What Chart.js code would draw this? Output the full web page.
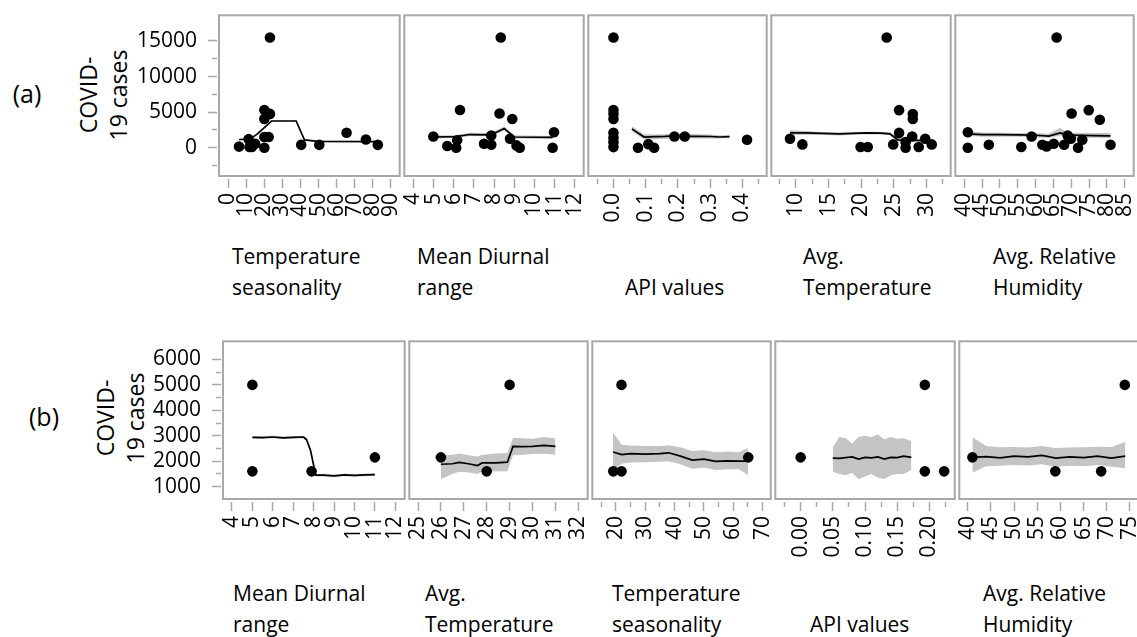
<!DOCTYPE html>
<html><head><meta charset="utf-8">
<script src="https://cdn.jsdelivr.net/npm/chart.js@4.4.0/dist/chart.umd.min.js"></script>
<style>
body{margin:0;background:#fff;width:1137px;height:637px;overflow:hidden;position:relative;font-family:'Open Sans',sans-serif;color:#000}
.cv{position:absolute}
.t{position:absolute;font-size:21px;line-height:31px;white-space:nowrap}
.yt{position:absolute;font-size:23px;line-height:30px;text-align:center;white-space:nowrap;transform:translate(-50%,-50%) rotate(-90deg)}
.lab{position:absolute;font-size:25px;transform:translate(-50%,-50%)}
</style></head><body>
<div class="lab" style="left:27px;top:93px">(a)</div>
<div class="lab" style="left:44px;top:416px">(b)</div>
<div class="yt" style="left:103px;top:95px">COVID-<br>19 cases</div>
<div class="yt" style="left:120px;top:418px">COVID-<br>19 cases</div>
<div class="t" style="left:232px;top:241px">Temperature<br>seasonality</div>
<div class="t" style="left:417px;top:241px">Mean Diurnal<br>range</div>
<div class="t" style="left:625px;top:241px">&nbsp;<br>API values</div>
<div class="t" style="left:803px;top:241px">Avg.<br>Temperature</div>
<div class="t" style="left:993px;top:241px">Avg. Relative<br>Humidity</div>
<div class="t" style="left:233px;top:578px">Mean Diurnal<br>range</div>
<div class="t" style="left:425px;top:578px">Avg.<br>Temperature</div>
<div class="t" style="left:612px;top:578px">Temperature<br>seasonality</div>
<div class="t" style="left:810px;top:578px">&nbsp;<br>API values</div>
<div class="t" style="left:983px;top:578px">Avg. Relative<br>Humidity</div>
<script>
// ---------- y axis (COVID-19 cases) ----------
const caseTicksA = [0, 5000, 10000, 15000];
const caseMinorA = [-2500, 2500, 7500, 12500];
const caseRangeA = [-3986, 18611];
const caseTicksB = [1000, 2000, 3000, 4000, 5000, 6000];
const caseMinorB = [1500, 2500, 3500, 4500, 5500];
const caseRangeB = [512, 6713];

// ---------- (a) row ----------
// a1 Temperature seasonality
const a1Ticks = [0, 10, 20, 30, 40, 50, 60, 70, 80, 90];
const a1Labels = ['0','10','20','30','40','50','60','70','80','90'];
const a1Minor = [];
const a1Range = [-5.1, 94.9];
const a1PointX = [6.0, 11.3, 11.8, 13.1, 14.9, 12.5, 20.0, 20.0, 22.4, 20.0, 20.0, 23.1, 23.1, 40.4, 50.4, 65.5, 76.2, 82.8];
const a1PointY = [150, 1200, 100, 100, 550, 400, 0, 1500, 1500, 4050, 5300, 4750, 15500, 400, 400, 2100, 1150, 400];
const a1LineX = [6, 12, 16, 24, 37.6, 42.2, 49.5, 82];
const a1LineY = [1150, 1200, 1900, 3750, 3750, 1100, 900, 850];
const a1BandHi = [1230, 1280, 1980, 3830, 3830, 1180, 980, 930];
const a1BandLo = [1070, 1120, 1820, 3670, 3670, 1020, 820, 770];

// a2 Mean Diurnal range
const a2Ticks = [4, 5, 6, 7, 8, 9, 10, 11, 12];
const a2Labels = ['4','5','6','7','8','9','10','11','12'];
const a2Minor = [];
const a2Range = [3.55, 12.44];
const a2PointX = [4.99, 5.68, 6.12, 6.17, 6.31, 7.5, 7.86, 7.86, 8.27, 8.33, 8.9, 8.79, 9.11, 9.27, 10.97, 10.9];
const a2PointY = [1570, 230, 0, 1050, 5300, 550, 410, 1700, 4800, 15500, 4030, 1250, 320, 0, 2170, 0];
const a2LineX = [5.0, 6.1, 6.8, 7.8, 8.1, 8.5, 9.0, 10.9];
const a2LineY = [1500, 1550, 1850, 1800, 2150, 2700, 1500, 1450];
const a2BandHi = [1700, 1800, 2100, 2050, 2400, 2950, 1750, 1650];
const a2BandLo = [1300, 1350, 1650, 1600, 1950, 2450, 1300, 1250];

// a3 API values
const a3Ticks = [0, 0.1, 0.2, 0.3, 0.4];
const a3Labels = ['0.0','0.1','0.2','0.3','0.4'];
const a3Minor = [-0.05, 0.05, 0.15, 0.25, 0.35, 0.45];
const a3Range = [-0.078, 0.475];
const a3PointX = [0, 0, 0, 0, 0, 0, 0, 0, 0.076, 0.108, 0.126, 0.189, 0.221, 0.414];
const a3PointY = [15500, 5300, 4720, 4030, 2100, 1400, 780, 80, 0, 500, 0, 1570, 1570, 1110];
const a3LineX = [0.057, 0.095, 0.13, 0.16, 0.19, 0.22, 0.26, 0.30, 0.33, 0.36];
const a3LineY = [2640, 1500, 1550, 1580, 1650, 1600, 1600, 1570, 1500, 1560];
const a3BandHi = [3000, 1900, 1850, 1900, 2000, 1950, 1900, 1850, 1750, 1750];
const a3BandLo = [2300, 1150, 1200, 1250, 1350, 1300, 1300, 1300, 1280, 1400];

// a4 Avg. Temperature
const a4Ticks = [10, 15, 20, 25, 30];
const a4Labels = ['10','15','20','25','30'];
const a4Minor = [7.5, 12.5, 17.5, 22.5, 27.5, 32.5];
const a4Range = [6.24, 33.7];
const a4PointX = [9.1, 11.0, 19.9, 21.0, 23.9, 24.9, 25.8, 25.8, 26.8, 26.8, 27.8, 27.9, 27.9, 28.8, 29.8, 30.8];
const a4PointY = [1250, 460, 90, 90, 15500, 460, 2080, 5280, 0, 780, 1570, 4720, 4030, 90, 1250, 460];
const a4LineX = [9.1, 11.7, 14, 16.7, 20.7, 23, 24.4, 25.6, 27, 29.6, 30.6];
const a4LineY = [2080, 2080, 2000, 1940, 2080, 2050, 1940, 1110, 1050, 1010, 1100];
const a4BandHi = [2450, 2350, 2200, 2150, 2250, 2250, 2150, 1400, 1350, 1250, 1300];
const a4BandLo = [1800, 1800, 1800, 1720, 1900, 1850, 1750, 850, 800, 800, 900];

// a5 Avg. Relative Humidity
const a5Ticks = [40, 45, 50, 55, 60, 65, 70, 75, 80, 85];
const a5Labels = ['40','45','50','55','60','65','70','75','80','85'];
const a5Minor = [];
const a5Range = [37.5, 87.5];
const a5PointX = [41.0, 41.0, 46.9, 56.0, 58.9, 61.9, 63.1, 65.1, 65.9, 68.0, 69.0, 69.9, 70.1, 71.9, 73.1, 74.9, 78.0, 81.0];
const a5PointY = [2170, 0, 410, 90, 1570, 410, 180, 550, 15500, 410, 1700, 1250, 4800, 0, 1110, 5280, 3930, 410];
const a5LineX = [41, 45, 50, 55.5, 60, 63.7, 66.9, 68.7, 72, 76, 81];
const a5LineY = [1940, 1850, 1850, 1800, 1750, 1620, 2080, 1800, 1750, 1700, 1670];
const a5BandHi = [2300, 2150, 2100, 2050, 2050, 1950, 2800, 2150, 2100, 2050, 2050];
const a5BandLo = [1650, 1550, 1550, 1550, 1450, 1350, 1700, 1450, 1400, 1400, 1350];

// ---------- (b) row ----------
// b1 Mean Diurnal range
const b1Ticks = [4, 5, 6, 7, 8, 9, 10, 11, 12];
const b1Labels = ['4','5','6','7','8','9','10','11','12'];
const b1Minor = [];
const b1Range = [3.56, 12.46];
const b1PointX = [5, 5, 7.9, 11];
const b1PointY = [5000, 1600, 1600, 2150];
const b1LineX = [5, 5.5, 6, 6.5, 7, 7.5, 7.65, 7.85, 8.1, 8.5, 9, 9.5, 10, 10.5, 11];
const b1LineY = [2940, 2930, 2950, 2920, 2940, 2950, 2850, 2420, 1450, 1450, 1420, 1460, 1440, 1460, 1470];
const b1BandHi = [2990, 2980, 3000, 2970, 2990, 3000, 2920, 2500, 1500, 1500, 1470, 1510, 1490, 1510, 1520];
const b1BandLo = [2890, 2880, 2900, 2870, 2890, 2900, 2780, 2340, 1400, 1400, 1370, 1410, 1390, 1410, 1420];

// b2 Avg. Temperature
const b2Ticks = [25, 26, 27, 28, 29, 30, 31, 32];
const b2Labels = ['25','26','27','28','29','30','31','32'];
const b2Minor = [];
const b2Range = [24.62, 32.41];
const b2PointX = [26, 28, 29];
const b2PointY = [2150, 1600, 5000];
const b2LineX = [26, 26.5, 26.8, 27.2, 27.6, 27.8, 28.4, 28.9, 29.15, 29.5, 30, 30.5, 31];
const b2LineY = [1880, 1900, 1950, 1900, 1830, 1930, 1930, 1960, 2580, 2570, 2580, 2620, 2580];
const b2BandHi = [2230, 2250, 2300, 2230, 2180, 2250, 2300, 2320, 2920, 2900, 2880, 2950, 2900];
const b2BandLo = [1300, 1500, 1580, 1560, 1500, 1600, 1600, 1600, 2230, 2240, 2280, 2290, 2250];

// b3 Temperature seasonality
const b3Ticks = [20, 30, 40, 50, 60, 70];
const b3Labels = ['20','30','40','50','60','70'];
const b3Minor = [15, 25, 35, 45, 55, 65];
const b3Range = [11.95, 72.75];
const b3PointX = [19.1, 21.9, 21.9, 65.1];
const b3PointY = [1600, 1600, 5000, 2150];
const b3LineX = [19, 22, 25, 30, 35, 38, 42, 46, 50, 54, 58, 62, 65];
const b3LineY = [2360, 2260, 2300, 2280, 2300, 2330, 2200, 2040, 2080, 1990, 2010, 2000, 2000];
const b3BandHi = [3130, 2650, 2620, 2600, 2600, 2630, 2550, 2400, 2430, 2350, 2380, 2350, 2520];
const b3BandLo = [1650, 1900, 1950, 1960, 1980, 2000, 1880, 1700, 1750, 1650, 1680, 1680, 1450];

// b4 API values
const b4Ticks = [0, 0.05, 0.1, 0.15, 0.2];
const b4Labels = ['0.00','0.05','0.10','0.15','0.20'];
const b4Minor = [-0.025, 0.025, 0.075, 0.125, 0.175, 0.225];
const b4Range = [-0.0394, 0.2394];
const b4PointX = [0, 0.193, 0.193, 0.223];
const b4PointY = [2150, 5000, 1600, 1600];
const b4LineX = [0.05, 0.06, 0.07, 0.08, 0.09, 0.10, 0.11, 0.12, 0.13, 0.14, 0.15, 0.16, 0.172];
const b4LineY = [2120, 2110, 2140, 2170, 2080, 2150, 2130, 2170, 2080, 2150, 2140, 2200, 2150];
const b4BandHi = [2550, 2950, 2900, 2700, 2950, 3000, 2950, 3050, 2850, 2950, 2880, 2900, 2780];
const b4BandLo = [1580, 1500, 1450, 1550, 1300, 1400, 1500, 1350, 1300, 1450, 1500, 1500, 1650];

// b5 Avg. Relative Humidity
const b5Ticks = [40, 45, 50, 55, 60, 65, 70, 75];
const b5Labels = ['40','45','50','55','60','65','70','75'];
const b5Minor = [];
const b5Range = [38.17, 76.9];
const b5PointX = [41, 58.9, 68.8, 73.9];
const b5PointY = [2150, 1600, 1600, 5000];
const b5LineX = [41, 44, 47, 50, 53, 56, 59, 62, 65, 68, 71, 74];
const b5LineY = [2150, 2180, 2130, 2200, 2170, 2230, 2120, 2170, 2140, 2200, 2120, 2200];
const b5BandHi = [2940, 2600, 2550, 2560, 2540, 2600, 2520, 2540, 2550, 2570, 2560, 2750];
const b5BandLo = [1550, 1800, 1820, 1850, 1830, 1880, 1780, 1820, 1800, 1850, 1780, 1720];

// ---------- build ----------
const FONT = "'Open Sans', sans-serif";
Chart.defaults.font.family = FONT;
Chart.defaults.font.size = 21;
Chart.defaults.color = '#000';
const TICKFONT = {family: FONT, size: 21};

const GRAY = '#a8a8a8';
const GAPX = 3, GAPY = 2, XH = 70, YW = 95, PAD = 3;

function pts(xs, ys) { return xs.map((x, i) => ({x: x, y: ys[i]})); }

const framePlugin = {
  id: 'frame',
  beforeDatasetsDraw(chart, args, opts) {
    const a = chart.chartArea, ctx = chart.ctx;
    ctx.save();
    ctx.strokeStyle = GRAY; ctx.lineWidth = 2;
    ctx.strokeRect(a.left + opts.insetL, a.top, a.right - a.left - opts.insetL, a.bottom - GAPX - a.top);
    ctx.restore();
  }
};

function mk(t, l, m, r, px, py, lx, ly, hi, lo) {
  return {ticks: t, labels: l, minor: m, range: r, px: px, py: py, lx: lx, ly: ly, hi: hi, lo: lo};
}

const rowA = {frames: [219, 402, 586, 769, 953, 1136], top: 13, bottom: 176,
  yRange: caseRangeA, yTicks: caseTicksA, yMinor: caseMinorA,
  panels: [
    mk(a1Ticks, a1Labels, a1Minor, a1Range, a1PointX, a1PointY, a1LineX, a1LineY, a1BandHi, a1BandLo),
    mk(a2Ticks, a2Labels, a2Minor, a2Range, a2PointX, a2PointY, a2LineX, a2LineY, a2BandHi, a2BandLo),
    mk(a3Ticks, a3Labels, a3Minor, a3Range, a3PointX, a3PointY, a3LineX, a3LineY, a3BandHi, a3BandLo),
    mk(a4Ticks, a4Labels, a4Minor, a4Range, a4PointX, a4PointY, a4LineX, a4LineY, a4BandHi, a4BandLo),
    mk(a5Ticks, a5Labels, a5Minor, a5Range, a5PointX, a5PointY, a5LineX, a5LineY, a5BandHi, a5BandLo)
  ]};
const rowB = {frames: [223, 407, 590, 773, 957, 1141], top: 339, bottom: 499,
  yRange: caseRangeB, yTicks: caseTicksB, yMinor: caseMinorB,
  panels: [
    mk(b1Ticks, b1Labels, b1Minor, b1Range, b1PointX, b1PointY, b1LineX, b1LineY, b1BandHi, b1BandLo),
    mk(b2Ticks, b2Labels, b2Minor, b2Range, b2PointX, b2PointY, b2LineX, b2LineY, b2BandHi, b2BandLo),
    mk(b3Ticks, b3Labels, b3Minor, b3Range, b3PointX, b3PointY, b3LineX, b3LineY, b3BandHi, b3BandLo),
    mk(b4Ticks, b4Labels, b4Minor, b4Range, b4PointX, b4PointY, b4LineX, b4LineY, b4BandHi, b4BandLo),
    mk(b5Ticks, b5Labels, b5Minor, b5Range, b5PointX, b5PointY, b5LineX, b5LineY, b5BandHi, b5BandLo)
  ]};

function makePanel(row, i) {
  const p = row.panels[i];
  const fl = row.frames[i], fr = row.frames[i + 1];
  const hasY = i === 0;
  const hasMinor = p.minor.length > 0;
  const caLeft = hasY ? fl - GAPY : fl;
  const caTop = row.top, caBottom = row.bottom + GAPX;
  const cLeft = hasY ? caLeft - YW : caLeft - PAD;
  const cTop = caTop - PAD;
  const cW = fr + PAD - cLeft, cH = caBottom + XH - cTop;
  const pxX = (fr - fl) / (p.range[1] - p.range[0]);
  const xMin = hasY ? p.range[0] - GAPY / pxX : p.range[0];
  const pxY = (row.bottom - row.top) / (row.yRange[1] - row.yRange[0]);
  const yMin = row.yRange[0] - GAPX / pxY;

  const canvas = document.createElement('canvas');
  canvas.width = cW; canvas.height = cH;
  canvas.className = 'cv';
  canvas.style.left = cLeft + 'px'; canvas.style.top = cTop + 'px';
  canvas.style.width = cW + 'px'; canvas.style.height = cH + 'px';
  document.body.appendChild(canvas);

  const noPad = s => { s.paddingLeft = 0; s.paddingRight = 0; s.paddingTop = 0; s.paddingBottom = 0; };

  new Chart(canvas, {
    type: 'scatter',
    data: {datasets: [
      {data: pts(p.px, p.py), pointRadius: 5.3, pointBackgroundColor: '#000', pointBorderWidth: 0, showLine: false},
      {type: 'line', data: pts(p.lx, p.ly), borderColor: '#000', borderWidth: 1.7, pointRadius: 0, fill: false, tension: 0},
      {type: 'line', data: pts(p.lx, p.hi), borderWidth: 0, borderColor: 'rgba(0,0,0,0)', pointRadius: 0, fill: '+1', backgroundColor: '#c4c4c4', tension: 0},
      {type: 'line', data: pts(p.lx, p.lo), borderWidth: 0, borderColor: 'rgba(0,0,0,0)', pointRadius: 0, fill: false, tension: 0}
    ]},
    options: {
      responsive: false, maintainAspectRatio: false, animation: false, devicePixelRatio: 1,
      layout: {padding: {left: hasY ? 0 : PAD, right: PAD, top: PAD, bottom: 0}},
      plugins: {legend: {display: false}, tooltip: {enabled: false}, frame: {insetL: hasY ? GAPY : 0}},
      events: [],
      scales: {
        x: {type: 'linear', position: 'bottom', weight: 1, min: xMin, max: p.range[1], bounds: 'data',
          afterBuildTicks: s => { s.ticks = p.ticks.map(v => ({value: v})); },
          afterFit: s => { s.height = XH; noPad(s); },
          ticks: {autoSkip: false, minRotation: 90, maxRotation: 90, padding: 5, font: TICKFONT, color: '#000', callback: (v, idx) => p.labels[idx]},
          grid: {drawOnChartArea: false, drawTicks: true, tickLength: 9, tickColor: GRAY, tickWidth: 1.5},
          border: {display: false}},
        xm: {type: 'linear', position: 'bottom', weight: 0, display: hasMinor, min: xMin, max: p.range[1], bounds: 'data',
          afterBuildTicks: s => { s.ticks = p.minor.map(v => ({value: v})); },
          afterFit: s => { s.height = 0; noPad(s); },
          ticks: {display: false},
          grid: {drawOnChartArea: false, drawTicks: true, tickLength: 5, tickColor: GRAY, tickWidth: 1.5},
          border: {display: false}},
        y: {type: 'linear', position: 'left', weight: 1, display: hasY, min: yMin, max: row.yRange[1], bounds: 'data',
          afterBuildTicks: s => { s.ticks = row.yTicks.map(v => ({value: v})); },
          afterFit: s => { s.width = hasY ? YW : 0; noPad(s); },
          ticks: {padding: 11, font: TICKFONT, color: '#000', callback: v => String(v)},
          grid: {drawOnChartArea: false, drawTicks: true, tickLength: 9, tickColor: GRAY, tickWidth: 1.5},
          border: {display: false}},
        ym: {type: 'linear', position: 'left', weight: 0, display: hasY, min: yMin, max: row.yRange[1], bounds: 'data',
          afterBuildTicks: s => { s.ticks = row.yMinor.map(v => ({value: v})); },
          afterFit: s => { s.width = 0; noPad(s); },
          ticks: {display: false},
          grid: {drawOnChartArea: false, drawTicks: true, tickLength: 5, tickColor: GRAY, tickWidth: 1.5},
          border: {display: false}}
      }
    },
    plugins: [framePlugin]
  });
}

[rowA, rowB].forEach(row => { for (let i = 0; i < 5; i++) makePanel(row, i); });
</script>
</body></html>
